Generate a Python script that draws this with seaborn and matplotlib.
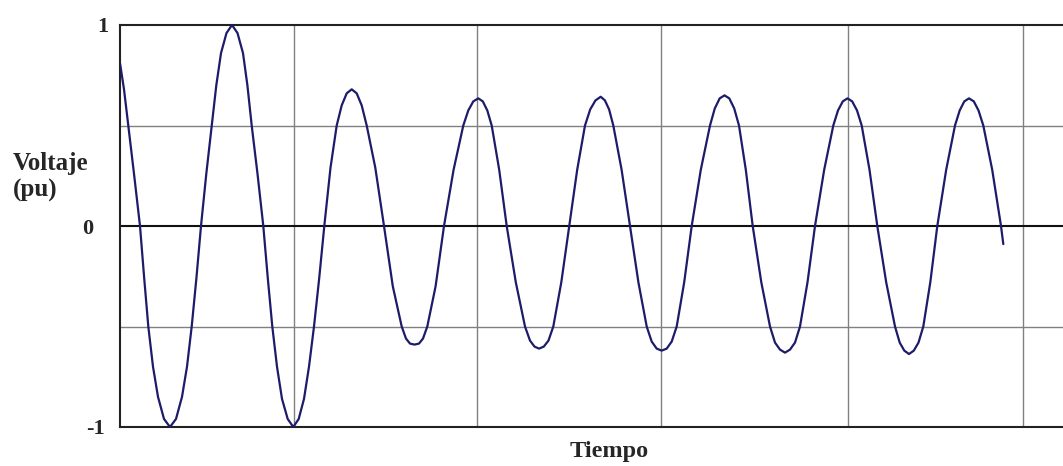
import pandas as pd
import seaborn as sns
import matplotlib
matplotlib.use("Agg")
import matplotlib.pyplot as plt
from matplotlib.transforms import ScaledTranslation

# valores (tiempo en unidades arbitrarias, voltaje en pu)
tiempo = [0, 4, 8.3, 14, 20, 24.2, 28.3, 33, 38, 44,
          50, 56, 62, 67, 71.7, 76.4, 81, 86.3, 91.7, 96.3,
          101, 106.5, 112, 117.5, 123, 127.4, 131.7, 137.5, 143.3, 147.8,
          152.3, 157, 162, 167.7, 173.3, 178.7, 184, 189, 194, 199.2,
          204.3, 210.5, 216.7, 221.7, 226.7, 231.7, 236.7, 241.7, 246.7, 255.3,
          264, 272.8, 281.7, 286, 290, 294.5, 299, 303, 307.3, 315.6,
          324, 333.6, 343.3, 348.3, 353.3, 358.3, 362.8, 367.3, 371.7, 379.2,
          386.7, 395.8, 405, 410, 414.5, 419, 423.8, 428.5, 433.3, 441.3,
          449.3, 457.2, 465, 470.2, 475.5, 480.7, 484.9, 489.1, 493.3, 501.6,
          510, 518.4, 526.7, 531.7, 536.7, 541.7, 546.7, 551.7, 556.7, 564.2,
          571.7, 580.8, 590, 594.8, 599.7, 604.5, 609.3, 614.2, 619, 625.8,
          632.7, 641.3, 650, 655, 660, 665, 670, 675, 680, 687.5,
          695, 704.2, 713.3, 718, 722.8, 727.5, 732.2, 737, 741.7, 749.5,
          757.3, 766.2, 775, 779.7, 784.3, 789, 793.8, 798.5, 803.3, 810.3,
          817.3, 826.2, 835, 839.7, 844.3, 849, 853.8, 858.5, 863.3, 872.2,
          881, 883.3]
voltaje = [0.81, 0.68, 0.5, 0.26, 0.0, -0.26, -0.5, -0.7, -0.85, -0.96,
           -1.0, -0.96, -0.85, -0.7, -0.5, -0.26, 0.0, 0.26, 0.5, 0.7,
           0.86, 0.96, 1.0, 0.96, 0.86, 0.7, 0.5, 0.26, 0.0, -0.26,
           -0.5, -0.7, -0.86, -0.96, -1.0, -0.96, -0.86, -0.7, -0.5, -0.26,
           0.0, 0.29, 0.5, 0.6, 0.66, 0.68, 0.66, 0.6, 0.5, 0.29,
           0.0, -0.3, -0.5, -0.56, -0.585, -0.59, -0.585, -0.56, -0.5, -0.3,
           0.0, 0.28, 0.5, 0.575, 0.62, 0.635, 0.62, 0.575, 0.5, 0.28,
           0.0, -0.28, -0.5, -0.57, -0.6, -0.61, -0.6, -0.57, -0.5, -0.28,
           0.0, 0.28, 0.5, 0.58, 0.625, 0.643, 0.625, 0.58, 0.5, 0.28,
           0.0, -0.28, -0.5, -0.575, -0.61, -0.62, -0.61, -0.575, -0.5, -0.28,
           0.0, 0.28, 0.5, 0.585, 0.635, 0.65, 0.635, 0.585, 0.5, 0.28,
           0.0, -0.28, -0.5, -0.58, -0.615, -0.63, -0.615, -0.58, -0.5, -0.28,
           0.0, 0.28, 0.5, 0.575, 0.62, 0.635, 0.62, 0.575, 0.5, 0.28,
           0.0, -0.28, -0.5, -0.58, -0.62, -0.637, -0.62, -0.58, -0.5, -0.28,
           0.0, 0.28, 0.5, 0.575, 0.62, 0.635, 0.62, 0.575, 0.5, 0.28,
           0.0, -0.09]

x_grid = [0, 174, 357, 541, 728, 903]
y_ticks = [-1, -0.5, 0, 0.5, 1]
y_labels = ['-1', '', '0', '', '1']

df = pd.DataFrame({'tiempo': tiempo, 'voltaje': voltaje})

sns.set_style("white")
plt.rcParams['font.family'] = ['Liberation Serif', 'DejaVu Serif']
plt.rcParams['font.weight'] = 'bold'

fig = plt.figure(figsize=(10.63, 4.66), dpi=100)
ax = fig.add_axes([120/1063, 39/466, 943/1063, 402/466])

sns.lineplot(data=df, x='tiempo', y='voltaje', sort=False, estimator=None,
             color='#1c1c6a', linewidth=1.6, ax=ax, zorder=3)

# rejilla
for xg in x_grid[1:]:
    ax.axvline(xg, color='#808080', linewidth=1.0, zorder=1)
for yg in [-0.5, 0.5]:
    ax.axhline(yg, color='#808080', linewidth=1.0, zorder=1)
ax.axhline(0, color='#111111', linewidth=1.5, zorder=2)

ax.set_xlim(0, 943)
ax.set_ylim(-1, 1)
ax.set_xticks([])
ax.set_yticks(y_ticks)
ax.set_yticklabels(y_labels, fontsize=16, fontweight='bold')
ax.tick_params(axis='y', length=0, pad=11)
ax.set_xlabel('')
ax.set_ylabel('')

# el "0" esta un poco mas a la izquierda en el original
lbls = ax.get_yticklabels()
lbls[2].set_transform(lbls[2].get_transform() + ScaledTranslation(-0.11, 0, fig.dpi_scale_trans))
lbls[4].set_transform(lbls[4].get_transform() + ScaledTranslation(0.04, 0, fig.dpi_scale_trans))

for side in ['left', 'top', 'bottom']:
    ax.spines[side].set_color('#222222')
    ax.spines[side].set_linewidth(1.5)
ax.spines['right'].set_visible(False)

fig.text(13/1063, 1 - 177/466, 'Voltaje\n(pu)', ha='left', va='center',
         fontsize=18, fontweight='bold', linespacing=1.15)
fig.text(609/1063, 1 - 451/466, 'Tiempo', ha='center', va='center',
         fontsize=17.5, fontweight='bold')

fig.savefig('out.png', dpi=100)
